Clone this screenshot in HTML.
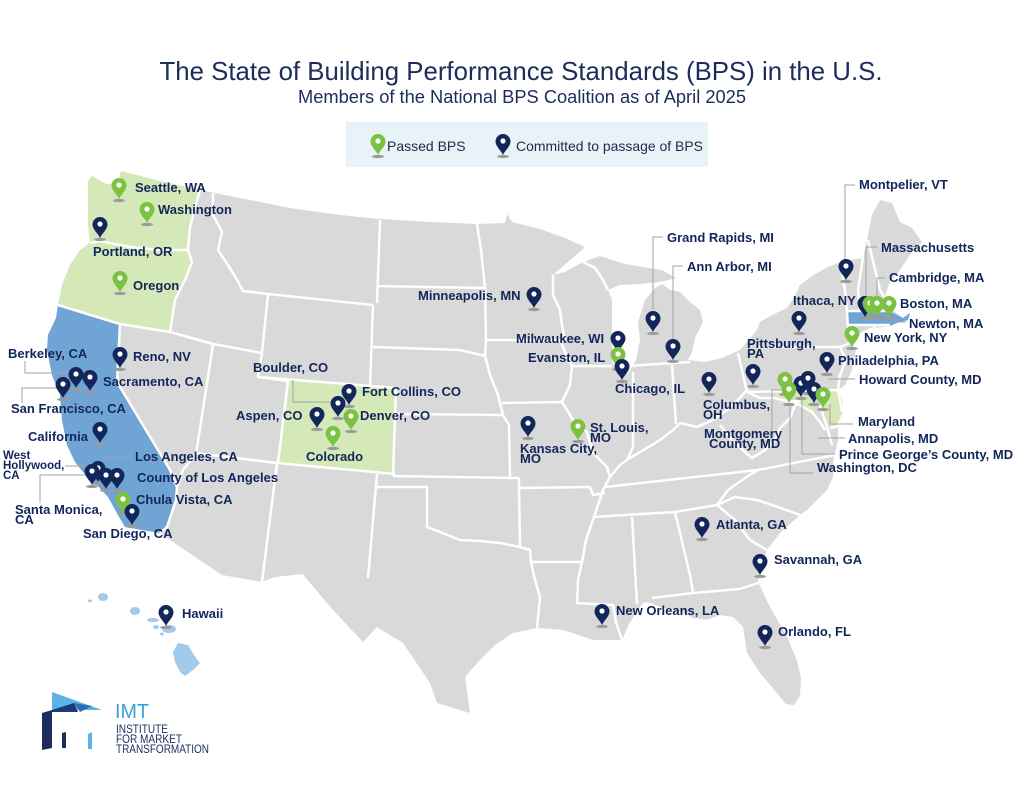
<!DOCTYPE html>
<html><head><meta charset="utf-8"><style>
html,body{margin:0;padding:0;background:#fff;}
svg{display:block;}
.l{font-family:"Liberation Sans",Arial,sans-serif;font-weight:bold;font-size:13px;fill:#13265a;}
.s{font-size:11.5px;}
</style></head><body>
<svg width="1024" height="791" viewBox="0 0 1024 791" xmlns="http://www.w3.org/2000/svg">
<defs>
<g id="pn"><ellipse cx="0" cy="1.5" rx="6" ry="1.6" fill="#9b9b9b"/><path d="M0,0 C-1.5,-4 -7.5,-8.5 -7.5,-13.5 A7.5,7.5 0 1 1 7.5,-13.5 C7.5,-8.5 1.5,-4 0,0 Z" fill="#13265a"/><circle cx="0" cy="-14" r="2.6" fill="#fff"/></g>
<g id="pg"><ellipse cx="0" cy="1.5" rx="6" ry="1.6" fill="#9b9b9b"/><path d="M0,0 C-1.5,-4 -7.5,-8.5 -7.5,-13.5 A7.5,7.5 0 1 1 7.5,-13.5 C7.5,-8.5 1.5,-4 0,0 Z" fill="#7cc242"/><circle cx="0" cy="-14" r="2.6" fill="#fff"/></g>
</defs>
<rect width="1024" height="791" fill="#fff"/>

<!-- Title -->
<text x="521" y="80" text-anchor="middle" font-family="Liberation Sans, Arial, sans-serif" font-size="26" fill="#1c2c5b" textLength="723" lengthAdjust="spacingAndGlyphs">The State of Building Performance Standards (BPS) in the U.S.</text>
<text x="522" y="103" text-anchor="middle" font-family="Liberation Sans, Arial, sans-serif" font-size="18" fill="#1c2c5b" textLength="448" lengthAdjust="spacingAndGlyphs">Members of the National BPS Coalition as of April 2025</text>

<!-- Legend -->
<rect x="346" y="122" width="362" height="45" fill="#e8f3f7"/>
<use href="#pg" x="378" y="155"/>
<text x="387" y="151" font-family="Liberation Sans, Arial, sans-serif" font-size="14" fill="#1e2a4a">Passed BPS</text>
<use href="#pn" x="503" y="155"/>
<text x="516" y="151" font-family="Liberation Sans, Arial, sans-serif" font-size="14" fill="#1e2a4a" textLength="187" lengthAdjust="spacingAndGlyphs">Committed to passage of BPS</text>

<!-- Land -->
<polygon fill="#d9d9d9" points="88,181 92,176 106,184 118,184 121,171 160,181 200,190 250,200 290,208 340,215 380,219 430,222 477,224 505,223 507,214 512,222 540,229 565,238 585,247 568,262 553,275 565,272 583,262 600,256 625,264 662,270 676,278 660,282 640,284 620,285 608,290 612,300 612,330 612,360 616,372 628,374 636,360 640,340 638,322 645,300 655,288 662,284 670,290 680,292 688,300 700,310 703,322 695,338 692,352 688,360 705,362 722,358 740,350 757,330 760,322 772,315 787,308 795,296 800,285 812,276 826,268 840,262 863,258 867,240 872,215 880,200 892,203 900,222 912,228 922,242 912,252 900,270 890,282 885,296 890,303 895,312 903,318 910,313 908,320 897,323 885,327 870,328 858,334 852,342 856,350 852,370 845,385 838,390 842,400 843,412 838,422 838,440 833,462 833,477 827,490 807,510 800,515 780,533 767,550 760,570 758,582 770,607 787,637 796,658 801,678 800,696 794,705 786,704 776,692 760,673 747,653 743,627 733,617 720,615 707,620 693,618 677,610 660,607 648,602 643,603 630,622 622,640 610,640 593,640 563,630 537,628 513,633 495,645 480,660 465,677 470,713 437,703 430,683 403,643 377,627 363,642 333,610 305,577 303,574 275,577 262,582 222,575 170,540 160,533 125,527 118,515 108,497 97,485 83,472 75,462 67,445 62,420 60,395 52,375 47,350 48,335 56,318 58,305 62,285 70,265 80,250 90,243 88,225 88,200"/>

<!-- Colored states -->
<polygon fill="#d5e8b8" points="88,181 92,176 106,184 118,184 121,171 160,181 200,190 190,227 188,250 160,250 130,247 100,241 90,243 88,225 88,200"/>
<polygon fill="#d5e8b8" points="90,243 100,241 130,247 160,250 188,250 192,262 185,280 175,300 170,332 120,324 58,305 62,285 70,265 80,250"/>
<polygon fill="#6fa4d4" points="58,305 120,324 117,382 170,470 177,487 176,500 167,527 160,533 125,527 118,515 108,497 97,485 83,472 75,462 67,445 62,420 60,395 52,375 47,350 48,335 56,318"/>
<polygon fill="#d5e8b8" points="288,381 396,388 393,475 278,463"/>
<polygon fill="#6fa4d4" points="847,311 886,310 893,313 903,318 910,313 908,320 897,323 890,326 847,326"/>
<polygon fill="#d5e8b8" points="773,393 800,392 837,390 842,400 843,412 838,422 830,428 825,420 822,408 818,400 812,403 816,415 808,412 798,404 788,400 775,399"/>

<!-- Borders -->
<path fill="none" stroke="#fff" stroke-width="2.5" stroke-linejoin="round" d="
M90,243 L100,241 L130,247 L160,250 L188,250
M200,190 L190,227 L188,250
M188,250 L192,262 L185,280 L175,300 L170,332
M58,305 L120,324 L170,332 L213,344 L262,353
M213,193 L213,215 L222,232 L218,250 L226,262 L236,278 L243,291 L268,294
M268,294 L262,353
M213,344 L197,448
M120,324 L117,382 L170,470 L177,487 L176,500 L167,527 L160,533
M197,448 L195,455 L183,470 L177,487
M195,453 L277,463 L395,474
M277,463 L262,582
M262,353 L258,377 L288,381 L278,463
M258,377 L396,388
M268,294 L373,305
M373,305 L370,386
M380,220 L377,303
M377,286 L485,288
M477,224 L481,250 L485,288 L486,340 L485,356
M373,347 L460,350 L485,356
M485,356 L490,375 L498,395 L503,415
M396,414 L503,415
M396,388 L393,476
M393,476 L519,478
M503,415 L509,425 L510,477
M377,474 L368,578
M377,487 L427,487 L427,527 L440,532 L460,540 L480,541 L500,543 L520,547
M519,478 L519,488 L520,547
M520,547 L530,550 L531,562 L535,580 L540,597 L537,628
M531,562 L582,562
M519,488 L590,487 L593,495 L605,493
M610,477 L603,490 L598,505 L593,520 L586,540 L582,562 L578,580 L577,603 L613,605 L616,622 L622,640
M632,517 L637,604
M593,517 L675,512 L717,505
M675,512 L690,575 L693,593
M652,598 L693,593 L740,589 L758,583
M717,505 L735,520 L750,540 L767,550
M717,505 L735,497 L757,500 L775,506 L800,515
M717,505 L728,490 L745,478 L758,470
M605,487 L758,470 L835,455
M720,425 L732,440 L745,452 L752,458 L765,450 L775,440 L780,428 L790,418 L795,405 L800,400
M610,477 L620,465 L630,458 L647,448 L660,440 L673,430 L680,423 L697,427 L713,420 L727,410 L738,400 L747,390
M633,372 L633,447 L627,460
M672,365 L676,424
M628,366 L690,362
M560,340 L565,352 L572,366 L570,385 L562,402 L567,410 L573,420 L587,432 L593,453 L607,467 L610,477
M502,403 L562,402
M486,340 L565,340
M553,275 L553,295 L560,310 L562,325 L565,340
M572,366 L612,366
M583,262 L595,268 L603,280 L608,290
M738,353 L747,392
M747,392 L837,390
M757,347 L840,347
M840,347 L846,360 L840,375 L838,390
M840,347 L852,342
M747,392 L760,398 L775,398 L790,402 L800,400
M838,390 L842,412
M840,261 L845,290 L847,312 L848,330 L851,340
M863,257 L858,290 L860,311
M868,240 L880,290 L885,298
M847,311 L886,311
M847,325 L890,325
M874,325 L875,333
M790,402 L800,405 L812,412 L820,422 L825,430
M830,428 L842,425
M822,395 L820,405 L823,415 L828,430 L832,445
"/>

<!-- Hawaii -->
<g fill="#a3c9eb">
<ellipse cx="90" cy="601" rx="2" ry="1.5"/>
<ellipse cx="103" cy="597" rx="5" ry="4"/>
<ellipse cx="135" cy="611" rx="5" ry="4"/>
<ellipse cx="153" cy="620" rx="6" ry="2"/>
<ellipse cx="156" cy="627" rx="3" ry="2"/>
<ellipse cx="169" cy="629" rx="7" ry="4"/>
<ellipse cx="162" cy="634" rx="2" ry="1.5"/>
<polygon points="178,643 188,645 194,655 200,663 193,670 185,676 180,672 175,662 173,652"/>
</g>

<!-- Leaders -->
<path fill="none" stroke="#a3a3a3" stroke-width="1" d="
M25,361 V373 H70
M22,403 V388 H60
M65,466 H90
M103,458 H132
M40,503 V475 H90
M293,380 V402 H333
M855,185 H845 V262
M663,237 H653 V310
M683,266 H673 V340
M877,247 H866 V300
M885,278 H877 V298
M893,322 H906
M828,379 H855
M830,404 V424 H853
M818,438 H845
M802,397 V454 H835
M790,407 V473 H813
M783,390 H772 V430
"/>

<!-- Pins -->
<use href="#pg" x="119" y="199"/>
<use href="#pg" x="147" y="223"/>
<use href="#pn" x="100" y="238"/>
<use href="#pg" x="120" y="292"/>
<use href="#pn" x="120" y="368"/>
<use href="#pn" x="76" y="388"/>
<use href="#pn" x="90" y="391"/>
<use href="#pn" x="63" y="398"/>
<use href="#pn" x="100" y="443"/>
<use href="#pn" x="98" y="482"/>
<use href="#pn" x="92" y="485"/>
<use href="#pn" x="106" y="489"/>
<use href="#pn" x="117" y="489"/>
<use href="#pg" x="123" y="513"/>
<use href="#pn" x="132" y="525"/>
<use href="#pn" x="349" y="405"/>
<use href="#pn" x="338" y="417"/>
<use href="#pg" x="351" y="430"/>
<use href="#pn" x="317" y="428"/>
<use href="#pg" x="333" y="447"/>
<use href="#pn" x="534" y="308"/>
<use href="#pn" x="618" y="352"/>
<use href="#pg" x="618" y="368"/>
<use href="#pn" x="622" y="380"/>
<use href="#pn" x="528" y="437"/>
<use href="#pg" x="578" y="440"/>
<use href="#pn" x="653" y="332"/>
<use href="#pn" x="673" y="360"/>
<use href="#pn" x="709" y="393"/>
<use href="#pn" x="753" y="385"/>
<use href="#pn" x="799" y="332"/>
<use href="#pn" x="846" y="280"/>
<use href="#pn" x="865" y="317"/>
<use href="#pg" x="870" y="317"/>
<use href="#pg" x="877" y="317"/>
<use href="#pg" x="889" y="317"/>
<use href="#pg" x="852" y="347"/>
<use href="#pn" x="827" y="373"/>
<use href="#pg" x="785" y="393"/>
<use href="#pn" x="801" y="397"/>
<use href="#pn" x="808" y="392"/>
<use href="#pn" x="814" y="403"/>
<use href="#pg" x="789" y="403"/>
<use href="#pg" x="823" y="408"/>
<use href="#pn" x="702" y="538"/>
<use href="#pn" x="760" y="575"/>
<use href="#pn" x="602" y="625"/>
<use href="#pn" x="765" y="646"/>
<use href="#pn" x="166" y="626"/>

<!-- Labels -->
<g class="l">
<text x="135" y="192">Seattle, WA</text>
<text x="158" y="214">Washington</text>
<text x="93" y="256">Portland, OR</text>
<text x="133" y="290">Oregon</text>
<text x="8" y="358">Berkeley, CA</text>
<text x="133" y="361">Reno, NV</text>
<text x="103" y="386">Sacramento, CA</text>
<text x="11" y="413">San Francisco, CA</text>
<text x="28" y="441">California</text>
<text class="s" x="3" y="459">West</text>
<text class="s" x="3" y="469">Hollywood,</text>
<text class="s" x="3" y="479">CA</text>
<text x="135" y="461">Los Angeles, CA</text>
<text x="137" y="482">County of Los Angeles</text>
<text x="136" y="504">Chula Vista, CA</text>
<text x="15" y="514">Santa Monica,</text>
<text x="15" y="524">CA</text>
<text x="83" y="538">San Diego, CA</text>
<text x="253" y="372">Boulder, CO</text>
<text x="362" y="396">Fort Collins, CO</text>
<text x="236" y="420">Aspen, CO</text>
<text x="360" y="420">Denver, CO</text>
<text x="306" y="461">Colorado</text>
<text x="418" y="300">Minneapolis, MN</text>
<text x="516" y="343">Milwaukee, WI</text>
<text x="528" y="362">Evanston, IL</text>
<text x="615" y="393">Chicago, IL</text>
<text x="520" y="453">Kansas City,</text>
<text x="520" y="463">MO</text>
<text x="590" y="432">St. Louis,</text>
<text x="590" y="442">MO</text>
<text x="667" y="242">Grand Rapids, MI</text>
<text x="687" y="271">Ann Arbor, MI</text>
<text x="859" y="189">Montpelier, VT</text>
<text x="881" y="252">Massachusetts</text>
<text x="889" y="282">Cambridge, MA</text>
<text x="793" y="305">Ithaca, NY</text>
<text x="900" y="308">Boston, MA</text>
<text x="909" y="328">Newton, MA</text>
<text x="864" y="342">New York, NY</text>
<text x="747" y="348">Pittsburgh,</text>
<text x="747" y="358">PA</text>
<text x="838" y="365">Philadelphia, PA</text>
<text x="859" y="384">Howard County, MD</text>
<text x="703" y="409">Columbus,</text>
<text x="703" y="419">OH</text>
<text x="704" y="438">Montgomery</text>
<text x="709" y="448">County, MD</text>
<text x="858" y="426">Maryland</text>
<text x="848" y="443">Annapolis, MD</text>
<text x="839" y="459">Prince George’s County, MD</text>
<text x="817" y="472">Washington, DC</text>
<text x="716" y="529">Atlanta, GA</text>
<text x="774" y="564">Savannah, GA</text>
<text x="616" y="615">New Orleans, LA</text>
<text x="778" y="636">Orlando, FL</text>
<text x="182" y="618">Hawaii</text>
</g>

<!-- IMT logo -->
<polygon fill="#5bb4e5" points="52,692 102,710 52,710"/>
<polygon fill="#1b3a78" points="52,710 74,703 78,712 52,712"/>
<polygon fill="#2f6db5" points="74,703 92,706 80,712"/>
<polygon fill="#1d2c5e" points="42,713 52,710 52,748 42,750"/>
<polygon fill="#1d2c5e" points="62,733 66,732 66,748 62,748"/>
<polygon fill="#5bb4e5" points="88,734 92,732 92,749 88,749"/>
<text x="115" y="718" font-family="Liberation Sans, Arial, sans-serif" font-size="20" fill="#3b9fd8" textLength="34" lengthAdjust="spacingAndGlyphs">IMT</text>
<g font-family="Liberation Sans, Arial, sans-serif" font-size="11.5" fill="#1d2d5c">
<text x="116" y="733" textLength="52" lengthAdjust="spacingAndGlyphs">INSTITUTE</text>
<text x="116" y="743" textLength="66" lengthAdjust="spacingAndGlyphs">FOR MARKET</text>
<text x="116" y="753" textLength="93" lengthAdjust="spacingAndGlyphs">TRANSFORMATION</text>
</g>
</svg>
</body></html>
